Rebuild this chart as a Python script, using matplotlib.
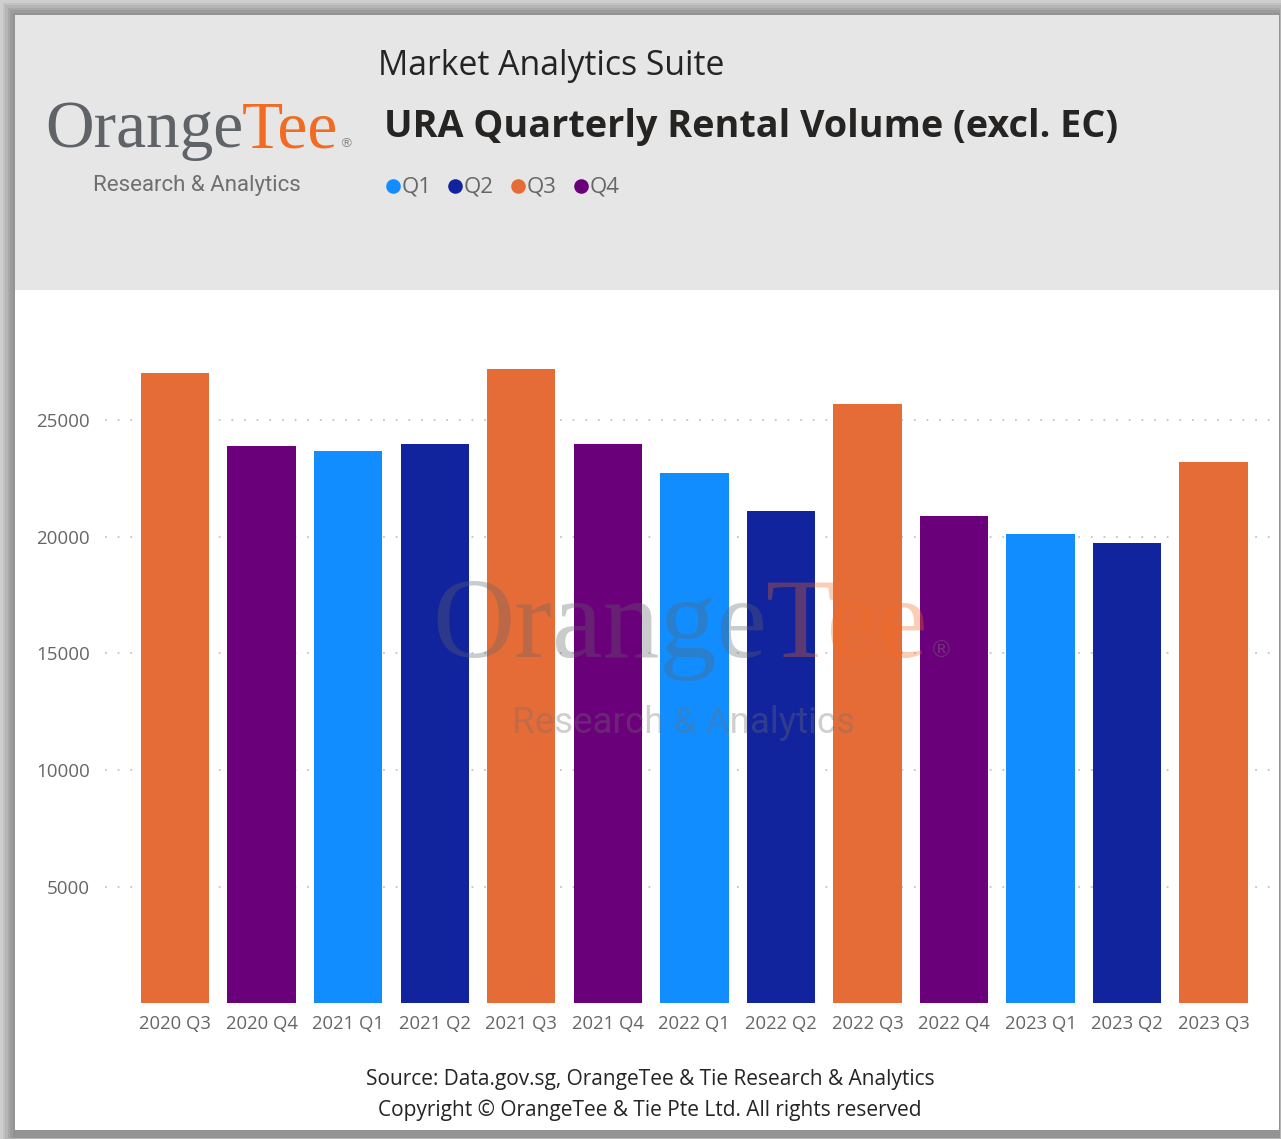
import matplotlib.pyplot as plt
from matplotlib.patches import Rectangle

# Data
quarters = ["2020 Q3", "2020 Q4", "2021 Q1", "2021 Q2", "2021 Q3", "2021 Q4", "2022 Q1",
            "2022 Q2", "2022 Q3", "2022 Q4", "2023 Q1", "2023 Q2", "2023 Q3"]
volumes = [27010, 23880, 23650, 23970, 27180, 23970, 22730,
           21080, 25690, 20860, 20090, 19740, 23180]
legend_labels = ["Q1", "Q2", "Q3", "Q4"]
legend_colors = ["#118DFF", "#12239E", "#E66C37", "#6B007B"]
yticks = [5000, 10000, 15000, 20000, 25000]

qcolor = dict(zip(legend_labels, legend_colors))
bar_colors = [qcolor[q.split()[1]] for q in quarters]

W, H = 1281, 1139
fig = plt.figure(figsize=(W / 100, H / 100), dpi=100)
fig.patch.set_facecolor("#d8d8d8")


def fx(x):
    return x / W


def fy(y):
    return 1 - y / H


def rect(x0, y0, x1, y1, color, z):
    fig.add_artist(Rectangle((fx(x0), fy(y1)), fx(x1) - fx(x0), (y1 - y0) / H,
                             transform=fig.transFigure, facecolor=color,
                             edgecolor="none", zorder=z))


# shadow frame around the card
shades = ["#cfcfcf", "#c2c2c2", "#b5b5b5", "#a8a8a8", "#9c9c9c", "#939393"]
for i, c in enumerate(shades):
    d = i * 2.5
    rect(d, d, W - d * 0.1, H - d * 0.1, c, -10 + i)
rect(15, 15, 1279, 1130, "white", -2)
rect(15, 15, 1279, 290, "#e6e6e6", -1)

# chart
ax = fig.add_axes([fx(105), fy(1003.4), fx(1275) - fx(105), (1003.4 - 330) / H])
ax.set_facecolor("none")
x = list(range(len(quarters)))
ax.bar(x, volumes, width=0.79, color=bar_colors, zorder=2)
ax.set_xlim(-0.81, 12.71)
ax.set_ylim(0, 28850)
ax.set_yticks(yticks)
ax.set_yticklabels([str(v) for v in yticks])
ax.set_xticks(x)
ax.set_xticklabels(quarters)
ax.yaxis.grid(True, linestyle=(0, (1, 6)), color="#c4c4c4", linewidth=1.3, zorder=0)
ax.set_axisbelow(True)
for s in ax.spines.values():
    s.set_visible(False)
ax.tick_params(axis="y", length=0, pad=11, labelsize=13.5, labelcolor="#666666")
ax.tick_params(axis="x", length=0, pad=8, labelsize=13.3, labelcolor="#666666")
for lab in ax.get_xticklabels() + ax.get_yticklabels():
    lab.set_family("Open Sans")

# header texts
fig.text(fx(378), fy(66), "Market Analytics Suite", fontsize=24.3, family="Open Sans",
         color="#252423", va="center", ha="left")
fig.text(fx(384), fy(127), "URA Quarterly Rental Volume (excl. EC)", fontsize=27.2,
         family="Open Sans", weight="bold", color="#252423", va="center", ha="left")

# legend dots on a pixel-space overlay
ov = fig.add_axes([0, 0, 1, 1], zorder=4)
ov.set_xlim(0, W)
ov.set_ylim(H, 0)
ov.axis("off")
lx = [393, 455, 518, 581]
for px, lab, col in zip(lx, legend_labels, legend_colors):
    ov.plot([px], [186], "o", ms=10.5, color=col, mec="none")
    ov.text(px + 9, 187, lab, fontsize=16, family="Open Sans", color="#666666",
            va="center", ha="left")


def logo(x, y, size, sub_size, sub_dx, sub_dy, alpha, z):
    renderer = fig.canvas.get_renderer()
    t1 = fig.text(fx(x), fy(y), "Orange", fontsize=size, family="Liberation Serif",
                  color="#5f6368", va="baseline", ha="left", alpha=alpha, zorder=z)
    bb = t1.get_window_extent(renderer)
    t2 = fig.text(bb.x1 / W - 0.001, fy(y), "Tee", fontsize=size, family="Liberation Serif",
                  color="#f26b21", va="baseline", ha="left", alpha=alpha, zorder=z)
    bb2 = t2.get_window_extent(renderer)
    fig.text((bb2.x1 + 1) / W, fy(y), "\u00ae", fontsize=size * 0.2,
             family="DejaVu Sans", color="#8a8a8a", va="baseline", ha="left",
             alpha=alpha, zorder=z)
    fig.text(fx(x + sub_dx), fy(y + sub_dy), "Research & Analytics", fontsize=sub_size,
             family="Roboto", color="#6f6f6f", va="center", ha="left", alpha=alpha, zorder=z)


logo(45, 147, 48.5, 16, 48, 39, 1.0, 5)
logo(432, 657, 82, 26.5, 80, 66, 0.33, 5)

# footer
fig.text(fx(650), fy(1080), "Source: Data.gov.sg, OrangeTee & Tie Research & Analytics",
         fontsize=15, family="Open Sans", color="#252423", ha="center", va="center")
fig.text(fx(650), fy(1110), "Copyright \u00a9 OrangeTee & Tie Pte Ltd. All rights reserved",
         fontsize=15, family="Open Sans", color="#252423", ha="center", va="center")

fig.savefig("out.png", dpi=100)
